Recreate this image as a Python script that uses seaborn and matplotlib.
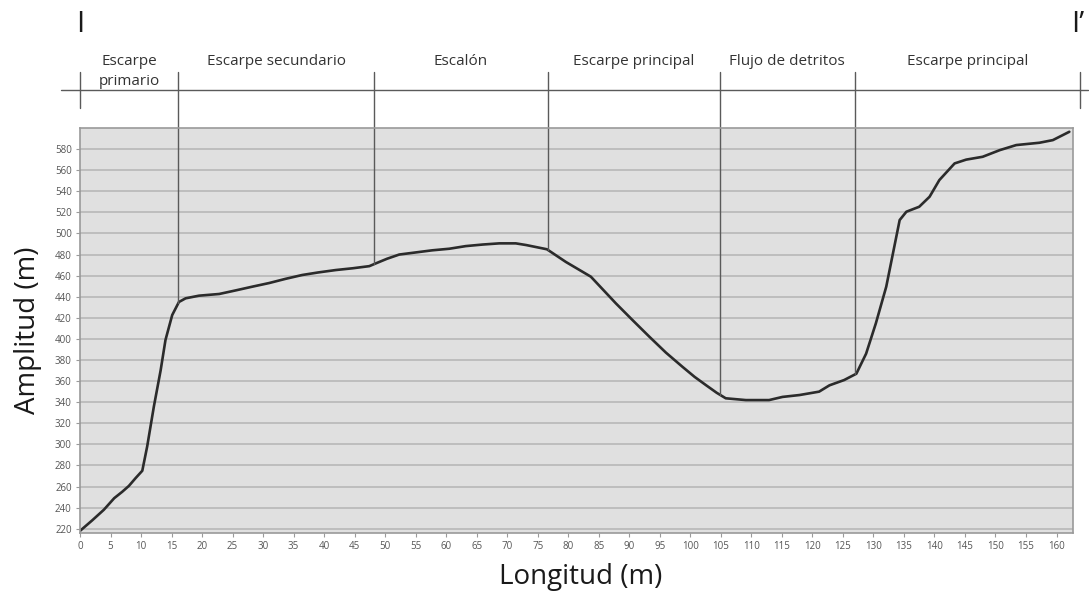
import numpy as np
import matplotlib
matplotlib.use("Agg")
import matplotlib.pyplot as plt
import seaborn as sns

# ---- data ----
distance = [0, 2, 3.9, 5.6, 6.9, 8.0, 9.1, 10.2, 11.0, 12.1, 13.2, 14.0, 15.1, 16.2,
            17.3, 19.5, 22.8, 25.5, 28.2, 31, 33.7, 36.4, 39, 41.9, 44.7, 47.4, 48.5,
            50.3, 52.3, 55, 57.7, 60.5, 63.2, 66, 68.7, 71.4, 73.1, 76.5, 79.6, 83.7,
            87.8, 90.5, 93.3, 96, 98.7, 100.7, 102.6, 104.3, 105.8, 109.1, 112.9, 115.1,
            117.9, 121.1, 122.8, 125.2, 127.2, 128.8, 130.4, 132.1, 134.3, 135.4, 137.5,
            139.2, 140.8, 143.3, 145.2, 147.9, 150.7, 153.4, 157.2, 159.4, 162.1]
elevation = [218, 228, 238, 249, 255, 260.6, 268, 275, 298, 336, 370, 399, 422.6, 435,
             438.5, 441, 442.6, 446, 449.5, 453, 457, 460.6, 463, 465.3, 467, 469, 471.7,
             476, 480, 482, 484, 485.5, 488, 489.5, 490.6, 490.6, 489, 485, 473, 459,
             433.7, 418, 402, 387, 373.6, 364, 356, 349, 343.7, 342, 342, 345, 346.8,
             350, 356, 361, 367, 386, 414.8, 449.5, 512.7, 520.6, 525.3, 534.8, 550.6,
             566.4, 570, 572.7, 579, 583.8, 586, 588.5, 596.4]
section_bounds = [0, 16.1, 48.2, 76.6, 104.8, 127.0, 163.8]
section_labels = ["Escarpe\nprimario", "Escarpe secundario", "Escalón",
                  "Escarpe principal", "Flujo de detritos", "Escarpe principal"]
x_ticks = list(range(0, 161, 5))
y_ticks = list(range(220, 581, 20))
profile_ends = ["I", "I’"]

# ---- style ----
sns.set_style("white")
plt.rcParams['font.family'] = ['Open Sans', 'DejaVu Sans']

fig = plt.figure(figsize=(10.89, 6.08), dpi=100)
ax = fig.add_axes([0.0735, 0.1234, 0.9118, 0.6661])
ax.set_facecolor('#e0e0e0')

sns.lineplot(x=distance, y=elevation, ax=ax, color='#2b2b2b', linewidth=1.9, sort=False)

ax.set_xlim(0, 162.7)
ax.set_ylim(216, 600)
ax.set_xticks(x_ticks)
ax.set_yticks(y_ticks)
ax.yaxis.grid(True, color='#b8b8b8', linewidth=1.2)
ax.xaxis.grid(False)
ax.set_axisbelow(True)
for s in ax.spines.values():
    s.set_color('#9a9a9a')
    s.set_linewidth(1.2)
ax.tick_params(axis='both', labelsize=7, colors='#9a9a9a', labelcolor='#555555',
               length=3, width=0.8, direction='out', pad=3, bottom=True, left=True)

ax.set_xlabel("Longitud (m)", fontsize=20, color='#1a1a1a')
ax.set_ylabel("Amplitud (m)", fontsize=20, color='#1a1a1a')
ax.xaxis.set_label_coords(0.504, -0.074)
ax.xaxis.label.set_va('top')
ax.yaxis.set_label_coords(-0.038, 0.5)

# ---- header: section boundaries and labels ----
y_top = 653     # top of boundary lines (data units, above the axes)
y_hline = 635.8
y_edge_bot = 618.8
line_kw = dict(color='#5a5a5a', linewidth=1.0, clip_on=False)

ax.plot([-3.1, 165.2], [y_hline, y_hline], **line_kw)
for i, b in enumerate(section_bounds):
    if i == 0 or i == len(section_bounds) - 1:
        ax.plot([b, b], [y_top, y_edge_bot], **line_kw)
    else:
        y_curve = float(np.interp(b, distance, elevation))
        ax.plot([b, b], [y_top, y_curve], **line_kw)

for i, lab in enumerate(section_labels):
    xm = 0.5 * (section_bounds[i] + section_bounds[i + 1])
    ax.text(xm, 670, lab, ha='center', va='top', fontsize=11, color='#333333',
            linespacing=1.4, clip_on=False)

ax.text(section_bounds[0], 698, profile_ends[0], ha='center', va='center',
        fontsize=21, color='#1a1a1a', clip_on=False)
ax.text(section_bounds[-1] - 0.4, 698, profile_ends[1], ha='center', va='center',
        fontsize=21, color='#1a1a1a', clip_on=False)

fig.savefig("out.png", dpi=100, facecolor='white')
